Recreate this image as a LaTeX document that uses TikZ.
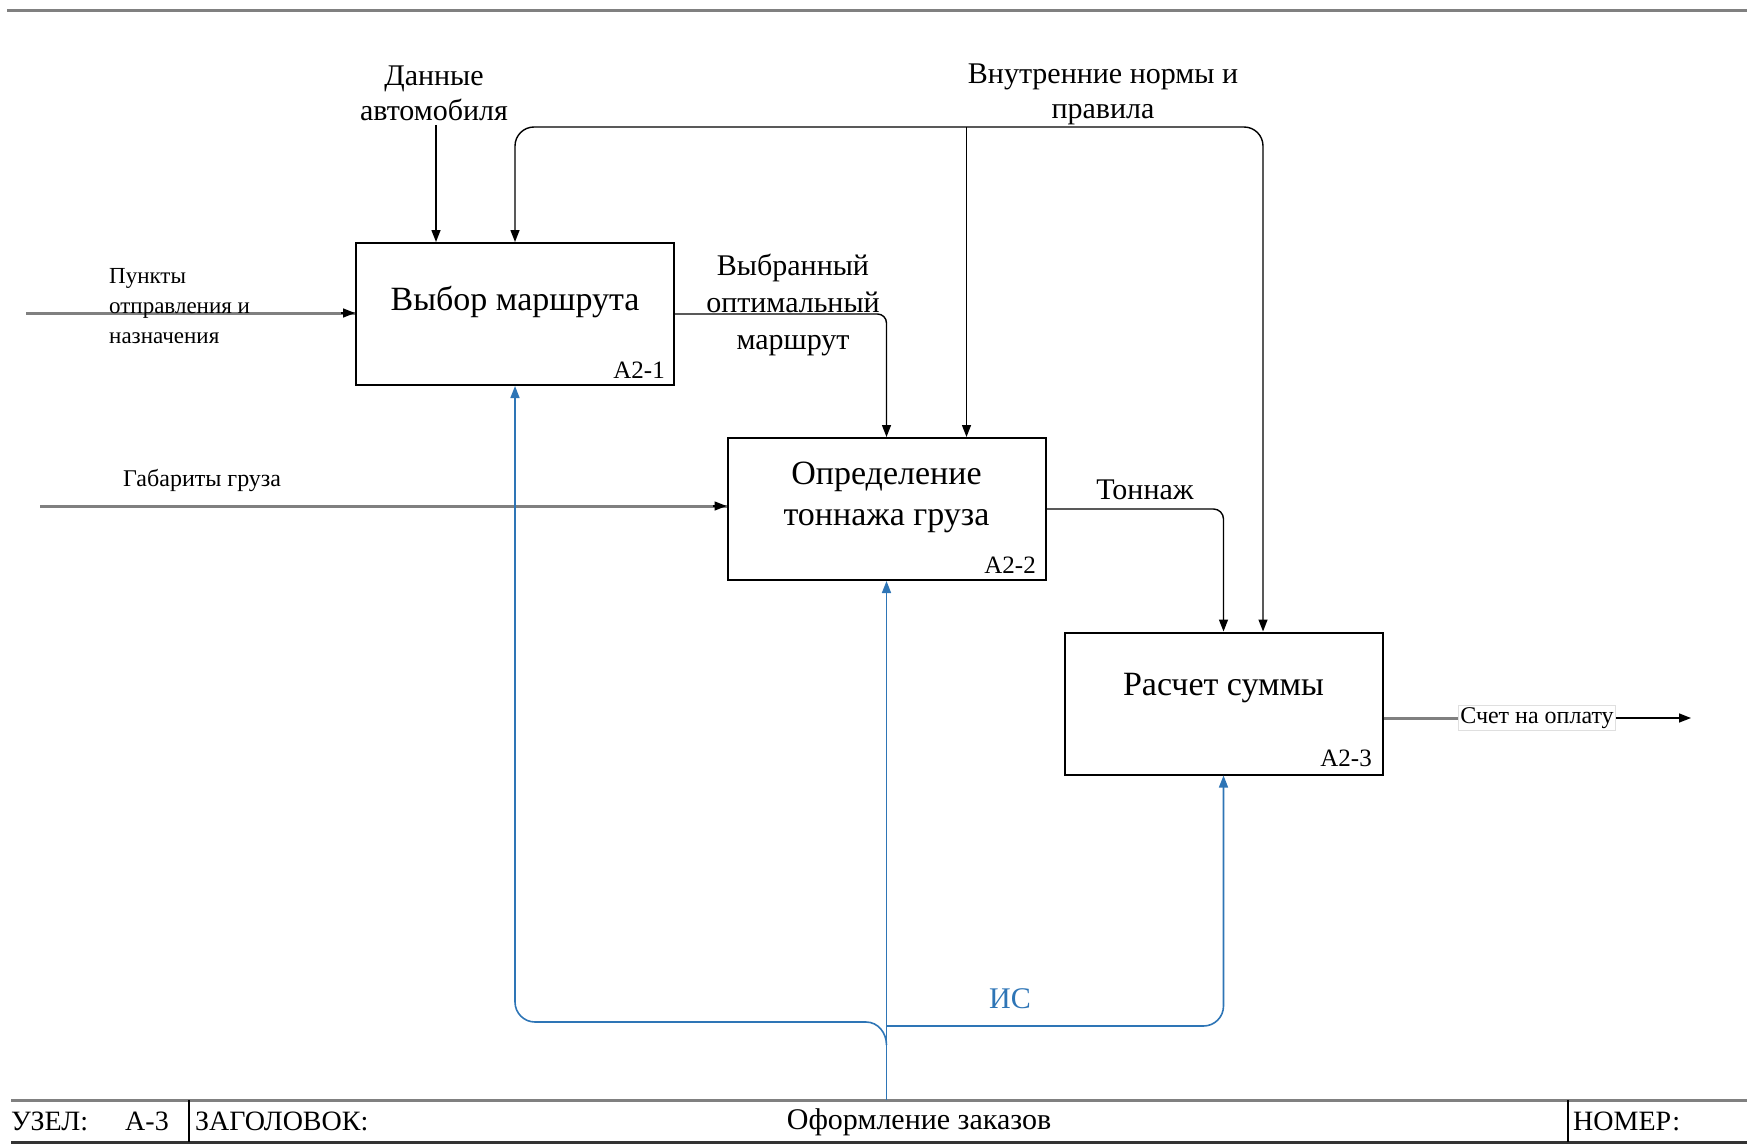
\documentclass[tikz,border=0pt]{standalone}
\usepackage{fontspec}
\setmainfont{Liberation Serif}
\usetikzlibrary{arrows.meta,calc}
\definecolor{isblue}{RGB}{46,117,182}
\definecolor{wiregray}{RGB}{128,128,128}
\begin{document}
\begin{tikzpicture}[x=1pt,y=-1pt,
  >={Triangle[length=12pt,width=9pt]},
  box/.style={draw=black,line width=2pt,minimum width=318pt,minimum height=142pt,inner sep=0pt},
  title/.style={font=\fontsize{34}{41}\selectfont,align=center,inner sep=0pt},
  code/.style={font=\fontsize{25}{28}\selectfont,anchor=east,inner sep=0pt},
  lbl/.style={font=\fontsize{30}{35}\selectfont,align=center,inner sep=0pt},
  small/.style={font=\fontsize{23}{30}\selectfont,align=left,inner sep=0pt},
  flow/.style={draw=black,line width=1.4pt},
  wire/.style={draw=wiregray,line width=3pt},
  isflow/.style={draw=isblue,line width=1.6pt},
  frame/.style={line width=3pt},
  foot/.style={font=\fontsize{28}{32}\selectfont,inner sep=0pt}]
\useasboundingbox (0,0) rectangle (1747,1145);

% sheet border lines
\draw[frame,draw=gray] (7,11) -- (1747,11);
\draw[frame,draw=gray] (11,1100) -- (1747,1100);
\draw[frame,draw=black!80] (11,1142) -- (1747,1142);
\draw[line width=1.5pt] (189,1100) -- (189,1142);
\draw[line width=1.5pt] (1568,1100) -- (1568,1142);

% footer texts
\node[foot,anchor=west] (fU) at (11,1121) {УЗЕЛ:};
\node[foot] (fA) at (147,1121) {А-3};
\node[foot,anchor=west] (fZ) at (195,1121) {ЗАГОЛОВОК:};
\node[foot,font=\fontsize{30}{34}\selectfont] (fO) at (919,1122) {Оформление заказов};
\node[foot,anchor=west] (fN) at (1573,1121) {НОМЕР:};

% activity boxes
\node[box] (b1) at (515,314) {};
\node[box] (b2) at (886.5,509) {};
\node[box] (b3) at (1223.5,703.5) {};
\node[title] (t1) at (515,302) {Выбор маршрута};
\node[title] (t2) at (886.5,497) {Определение\\тоннажа груза};
\node[title] (t3) at (1223.5,688) {Расчет суммы};
\node[code] (c1) at (665,370) {A2-1};
\node[code] (c2) at (1036,565) {A2-2};
\node[code] (c3) at (1372,758) {A2-3};

% free ends of boundary arrows
\coordinate (inP) at (26,313);
\coordinate (inG) at (40,506);
\coordinate (outS) at (1691,718);
\coordinate (ctlD) at (436,125);
\coordinate (nR) at (1263,127);
\coordinate (nM) at (966.5,127);
\coordinate (isB) at (886.5,1100);
\coordinate (isR) at (886.5,1026);
\coordinate (isL) at (886.5,1045);
\coordinate (isLh) at (866,1022);

% inputs
\draw[wire] (inP) -- (inP -| b1.west);
\draw[flow,->] ($(inP -| b1.west)+(-14,0)$) -- (inP -| b1.west);
\draw[wire] (inG) -- (inG -| b2.west);
\draw[flow,->] ($(inG -| b2.west)+(-14,0)$) -- (inG -| b2.west);
\node[small,anchor=west] (lP) at (109,306) {Пункты\\отправления и\\назначения};
\node[small,anchor=west,font=\fontsize{24}{28}\selectfont] (lG) at (123,480) {Габариты груза};

% controls
\draw[flow,->] (ctlD) -- (ctlD |- b1.north);
\node[lbl] (lD) at (434,93) {Данные\\автомобиля};
\draw[flow,<->,rounded corners=19pt] (b1.north) -- (b1.north |- nR) -- (nR) -- (nR |- b3.north);
\draw[flow,->] (nM) -- (nM |- b2.north);
\node[lbl] (lN) at (1103,94) {Внутренние нормы и\\правила};

% internal flows
\draw[flow,->,rounded corners=9pt] (b1.east) -- (b2.north |- b1.east) -- (b2.north);
\node[lbl,font=\fontsize{30}{37}\selectfont] (lV) at (793,305) {Выбранный\\оптимальный\\маршрут};
\draw[flow,->,rounded corners=10pt] (b2.east) -- (b3.north |- b2.east) -- (b3.north);
\node[lbl] (lT) at (1145,490) {Тоннаж};

% output
\node[font=\fontsize{24}{28}\selectfont,fill=white,draw=gray!25,line width=0.8pt,inner sep=2pt] (lS) at (1537,718) {Счет на оплату};
\draw[wire] (b3.east |- outS) -- (lS.west);
\draw[flow,->] (lS.east) -- (outS);

% mechanism
\draw[isflow,->] (isB) -- (b2.south);
\draw[isflow,->,rounded corners=20pt] (isR) -- (isR -| b3.south) -- (b3.south);
\draw[isflow,->] (isL) to[out=90,in=0] (isLh) [rounded corners=20pt] -- (b1.south |- isLh) -- (b1.south);
\node[lbl,text=isblue] (lI) at (1010,999) {ИС};
\end{tikzpicture}
\end{document}
